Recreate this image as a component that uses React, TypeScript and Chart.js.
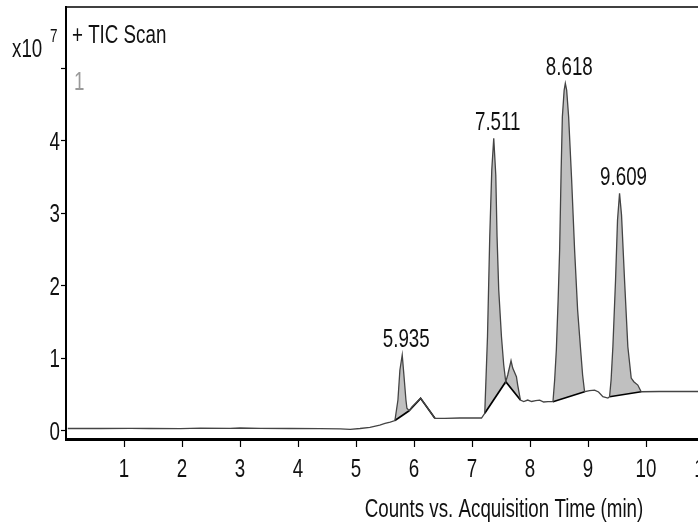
import React, { useEffect, useRef } from 'react';
import { Chart, registerables } from 'chart.js';

Chart.register(...registerables);

const FONT = "'Liberation Sans', Arial, sans-serif";
const NARROW = 0.75; // horizontal condensing of the Arial-like face (Arial Narrow look)

// TIC trace: acquisition time (min) and counts (x10^7)
const traceTimes = [
  0.03, 0.59, 1.11, 1.45, 1.97, 2.32, 2.83, 3.0, 3.35, 3.86, 4.38, 4.73, 4.9, 5.07, 5.24, 5.41, 5.5, 5.59,
  5.671, 5.723, 5.757, 5.797, 5.826, 5.861, 5.878, 5.917,
  5.964, 6.033, 6.114, 6.188, 6.274, 6.36, 6.532, 6.79, 7.048, 7.164,
  7.22, 7.267, 7.306, 7.341, 7.375, 7.41, 7.432, 7.461, 7.508, 7.547, 7.582, 7.616, 7.673, 7.702, 7.766, 7.788, 7.835,
  7.892, 7.96, 8.029, 8.098, 8.167, 8.236, 8.31,
  8.396, 8.425, 8.454, 8.485, 8.511, 8.537, 8.558, 8.589, 8.609, 8.632, 8.666, 8.718, 8.769, 8.821, 8.873, 8.907, 8.941,
  9.028, 9.114, 9.182, 9.256, 9.343,
  9.372, 9.398, 9.429, 9.475, 9.509, 9.544, 9.578, 9.63, 9.687, 9.745, 9.79, 9.859, 9.917,
  10.23, 10.58, 10.89, 11.44, 12.0,
];
const traceCounts = [
  0.028, 0.028, 0.03, 0.028, 0.026, 0.032, 0.03, 0.035, 0.029, 0.028, 0.026, 0.023, 0.017, 0.028, 0.044, 0.076, 0.099, 0.117,
  0.138, 0.421, 0.836, 1.043, 0.767, 0.421, 0.307, 0.273,
  0.325, 0.38, 0.445, 0.366, 0.269, 0.169, 0.169, 0.173, 0.173, 0.173,
  0.238, 1.296, 2.677, 3.598, 4.036, 3.529, 2.677, 1.941, 1.296, 0.905, 0.674, 0.767, 0.964, 0.863, 0.743, 0.628, 0.421,
  0.401, 0.421, 0.401, 0.414, 0.421, 0.394, 0.398,
  0.398, 0.698, 1.112, 1.802, 2.493, 3.598, 4.334, 4.703, 4.796, 4.703, 4.334, 3.46, 2.493, 1.664, 1.112, 0.767, 0.536,
  0.552, 0.559, 0.532, 0.467, 0.449,
  0.467, 0.698, 1.157, 2.079, 2.907, 3.276, 2.977, 2.079, 1.157, 0.725, 0.674, 0.628, 0.536,
  0.539, 0.539, 0.539, 0.539, 0.539,
];

// Integrated peaks
const peakLabels = ['5.935', '7.511', '8.618', '9.609'];
const peakStartTimes = [5.671, 7.22, 8.396, 9.372];
const peakEndTimes = [5.917, 7.835, 8.941, 9.917];

// Integration baselines (time, counts x10^7)
const baselineTimes = [
  [5.671, 5.917],
  [7.22, 7.582, 7.835],
  [8.396, 8.941],
  [9.372, 9.917],
  [5.917, 6.114, 6.36],
];
const baselineCounts = [
  [0.138, 0.273],
  [0.238, 0.674, 0.421],
  [0.398, 0.536],
  [0.467, 0.536],
  [0.273, 0.445, 0.169],
];

const xTickValues = [1, 2, 3, 4, 5, 6, 7, 8, 9, 10, 11];
const xTickLabels = ['1', '2', '3', '4', '5', '6', '7', '8', '9', '10', '11'];
const yTickValues = [0, 1, 2, 3, 4, 5];
const yTickLabels = ['0', '1', '2', '3', '4', ''];

const titleText = '+ TIC Scan';
const windowLabel = '1';
const yExponentBase = 'x10';
const yExponent = '7';
const xAxisTitle = 'Counts vs. Acquisition Time (min)';

function narrowText(c: CanvasRenderingContext2D, text: string, x: number, y: number, size: number, align: CanvasTextAlign, color: string) {
  c.save();
  c.translate(x, y);
  c.scale(NARROW, 1);
  c.font = `${size}px ${FONT}`;
  c.fillStyle = color;
  c.textAlign = align;
  c.textBaseline = 'alphabetic';
  c.fillText(text, 0, 0);
  c.restore();
}

export default function App() {
  const ref = useRef<HTMLCanvasElement>(null);

  useEffect(() => {
    const canvas = ref.current;
    if (!canvas) return;
    const pts = traceTimes.map((t, i) => ({ x: t, y: traceCounts[i] }));
    const datasets: any[] = [];
    datasets.push({
      label: 'TIC',
      data: pts,
      borderColor: '#444',
      borderWidth: 1.3,
      pointRadius: 0,
      fill: false,
      order: 0,
    });
    baselineTimes.forEach((ts, i) => {
      datasets.push({
        label: 'baseline' + i,
        data: ts.map((t, j) => ({ x: t, y: baselineCounts[i][j] })),
        borderColor: '#000',
        borderWidth: 1.7,
        pointRadius: 0,
        fill: false,
        order: 1,
      });
    });
    peakStartTimes.forEach((s, i) => {
      const e = peakEndTimes[i];
      datasets.push({
        label: 'area' + i,
        data: pts.filter((p) => p.x >= s - 1e-6 && p.x <= e + 1e-6),
        borderColor: 'rgba(0,0,0,0)',
        borderWidth: 0,
        backgroundColor: '#c0c0c0',
        pointRadius: 0,
        fill: { target: 1 + i },
        order: 2,
      });
    });

    const decor = {
      id: 'decor',
      afterDatasetsDraw(chart: any) {
        const c = chart.ctx;
        const xs = chart.scales.x;
        const ys = chart.scales.y;
        peakLabels.forEach((lab, i) => {
          let best = -1;
          for (let k = 0; k < traceTimes.length; k++) {
            if (traceTimes[k] >= peakStartTimes[i] && traceTimes[k] <= peakEndTimes[i]) {
              if (best < 0 || traceCounts[k] > traceCounts[best]) best = k;
            }
          }
          const px = xs.getPixelForValue(traceTimes[best]);
          const py = ys.getPixelForValue(traceCounts[best]);
          narrowText(c, lab, px + 4, py - 8, 25, 'center', '#111');
        });
      },
      afterDraw(chart: any) {
        const c = chart.ctx;
        const a = chart.chartArea;
        const xs = chart.scales.x;
        const ys = chart.scales.y;
        c.save();
        c.strokeStyle = '#000';
        c.lineWidth = 1.5;
        c.beginPath();
        c.moveTo(a.left, a.top);
        c.lineTo(a.right, a.top);
        c.stroke();
        c.restore();
        // tick labels placed from the library's scales
        xs.ticks.forEach((t: any) => {
          const lab = xTickLabels[xTickValues.indexOf(t.value)] ?? String(t.value);
          narrowText(c, lab, xs.getPixelForValue(t.value), a.bottom + 37.5, 25, 'center', '#111');
        });
        ys.ticks.forEach((t: any) => {
          const lab = yTickLabels[yTickValues.indexOf(t.value)] ?? String(t.value);
          if (lab) narrowText(c, lab, a.left - 6, ys.getPixelForValue(t.value) + 9, 25, 'right', '#111');
        });
        narrowText(c, yExponentBase, 12, 57, 25, 'left', '#111');
        narrowText(c, yExponent, 50, 42, 18, 'left', '#111');
        narrowText(c, titleText, 72, 43, 25, 'left', '#111');
        narrowText(c, windowLabel, 74, 90, 25, 'left', '#9a9a9a');
        narrowText(c, xAxisTitle, 504, 517, 25, 'center', '#111');
      },
    };

    const chart = new Chart(canvas, {
      type: 'line',
      data: { datasets },
      options: {
        animation: false,
        responsive: false,
        events: [],
        layout: { padding: { top: 7, left: 0, right: 0, bottom: 0 }, autoPadding: false },
        plugins: {
          legend: { display: false },
          tooltip: { enabled: false },
          title: { display: false },
        },
        scales: {
          x: {
            type: 'linear',
            min: 0,
            max: 12,
            afterBuildTicks: (s: any) => {
              s.ticks = xTickValues.map((v) => ({ value: v }));
            },
            afterFit: (s: any) => {
              s.height = 87;
            },
            ticks: { display: false, autoSkip: false, maxRotation: 0 },
            grid: { display: true, drawOnChartArea: false, drawTicks: true, tickLength: 8, color: '#000', tickWidth: 1.2 },
            border: { display: true, color: '#000', width: 3 },
          },
          y: {
            type: 'linear',
            min: -0.117,
            max: 5.85,
            afterBuildTicks: (s: any) => {
              s.ticks = yTickValues.map((v) => ({ value: v }));
            },
            afterFit: (s: any) => {
              s.width = 66;
            },
            ticks: { display: false, autoSkip: false },
            grid: { display: true, drawOnChartArea: false, drawTicks: true, tickLength: 5, color: '#000', tickWidth: 1.2 },
            border: { display: true, color: '#000', width: 2 },
          },
        },
      },
      plugins: [decor],
    } as any);
    return () => chart.destroy();
  }, []);

  return (
    <div style={{ position: 'absolute', left: 0, top: 0, width: 698, height: 526, overflow: 'hidden', background: '#fff' }}>
      <canvas ref={ref} width={762} height={526} style={{ display: 'block', width: 762, height: 526 }} />
    </div>
  );
}
